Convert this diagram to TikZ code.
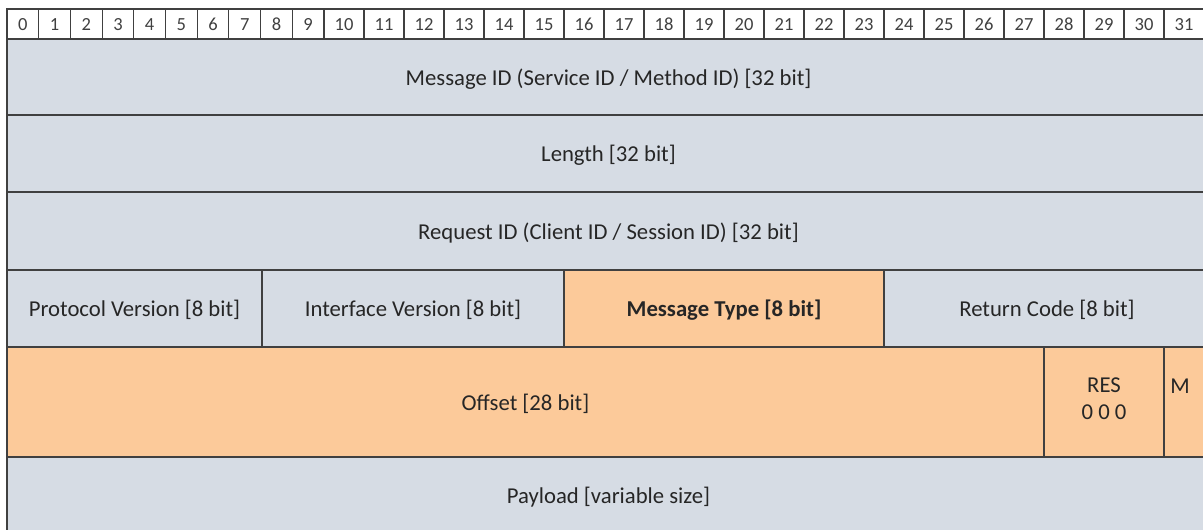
\documentclass[tikz,border=0pt]{standalone}
\usepackage{fontspec}
\setmainfont{Carlito}
\definecolor{gb}{HTML}{D6DCE4}
\definecolor{org}{HTML}{FCCA9A}
\definecolor{ln}{HTML}{404040}
\definecolor{tx}{HTML}{262626}
\begin{document}
\begin{tikzpicture}[x=1bp,y=-1bp,
  cell/.style={draw=ln, line width=1.4bp, inner sep=0pt, text=tx, text depth=0pt,
    font=\fontsize{22.7bp}{27bp}\selectfont},
  hcell/.style={draw=ln, line width=1.1bp, inner sep=0pt, fill=white, text=ln,
    text height=13bp, text depth=0pt,
    font=\fontsize{18.5bp}{20bp}\selectfont},
  lbl/.style={inner sep=0pt, text=tx, font=\fontsize{22.7bp}{26bp}\selectfont, align=center}]
\useasboundingbox (0,0) rectangle (1203,530);
\clip (0,0) rectangle (1203,530);
\fill[white] (0,0) rectangle (1203,530);
% header bit numbers
\foreach \i in {0,...,31}{
  \pgfmathsetmacro{\xa}{\i<10 ? 7+\i*31.7 : 324+(\i-10)*40}
  \pgfmathsetmacro{\xb}{\i<9 ? 7+(\i+1)*31.7 : 324+(\i+1-10)*40}
  \pgfmathsetmacro{\w}{\xb-\xa}
  \pgfmathsetmacro{\c}{(\xa+\xb)/2}
  \node[hcell, minimum width=\w bp, minimum height=30bp] (h\i) at (\c,24) {\i};
}
% rows
\node[cell, fill=gb, minimum width=1203bp, minimum height=76bp] (msgid) at (608.5,77) {Message ID (Service ID / Method ID) [32 bit]};
\node[cell, fill=gb, minimum width=1203bp, minimum height=77bp] (len) at (608.5,153.5) {Length [32 bit]};
\node[cell, fill=gb, minimum width=1203bp, minimum height=78bp] (reqid) at (608.5,231) {Request ID (Client ID / Session ID) [32 bit]};
\node[cell, fill=gb, minimum width=255bp, minimum height=77bp] (proto) at (134.5,308.5) {Protocol Version [8 bit]};
\node[cell, fill=gb, minimum width=302bp, minimum height=77bp] (iface) at (413,308.5) {Interface Version [8 bit]};
\node[cell, fill=org, minimum width=320bp, minimum height=77bp, font=\fontsize{22.7bp}{27bp}\selectfont\bfseries] (mtype) at (724,308.5) {Message Type [8 bit]};
\node[cell, fill=gb, minimum width=326bp, minimum height=77bp] (rcode) at (1047,308.5) {Return Code [8 bit]};
\node[cell, fill=org, minimum width=1037bp, minimum height=110bp] (offset) at (525.5,402) {Offset [28 bit]};
\node[cell, fill=org, minimum width=120bp, minimum height=110bp] (res) at (1104,402) {};
\node[cell, fill=org, minimum width=50bp, minimum height=110bp] (mflag) at (1189,402) {};
\node[lbl] (restxt) at (1104,399) {RES\\[1bp]0 0 0};
\node[lbl, anchor=base] (mtxt) at (1180,393) {M};
\node[cell, fill=gb, minimum width=1203bp, minimum height=77bp] (payload) at (608.5,495.5) {Payload [variable size]};
\end{tikzpicture}
\end{document}
